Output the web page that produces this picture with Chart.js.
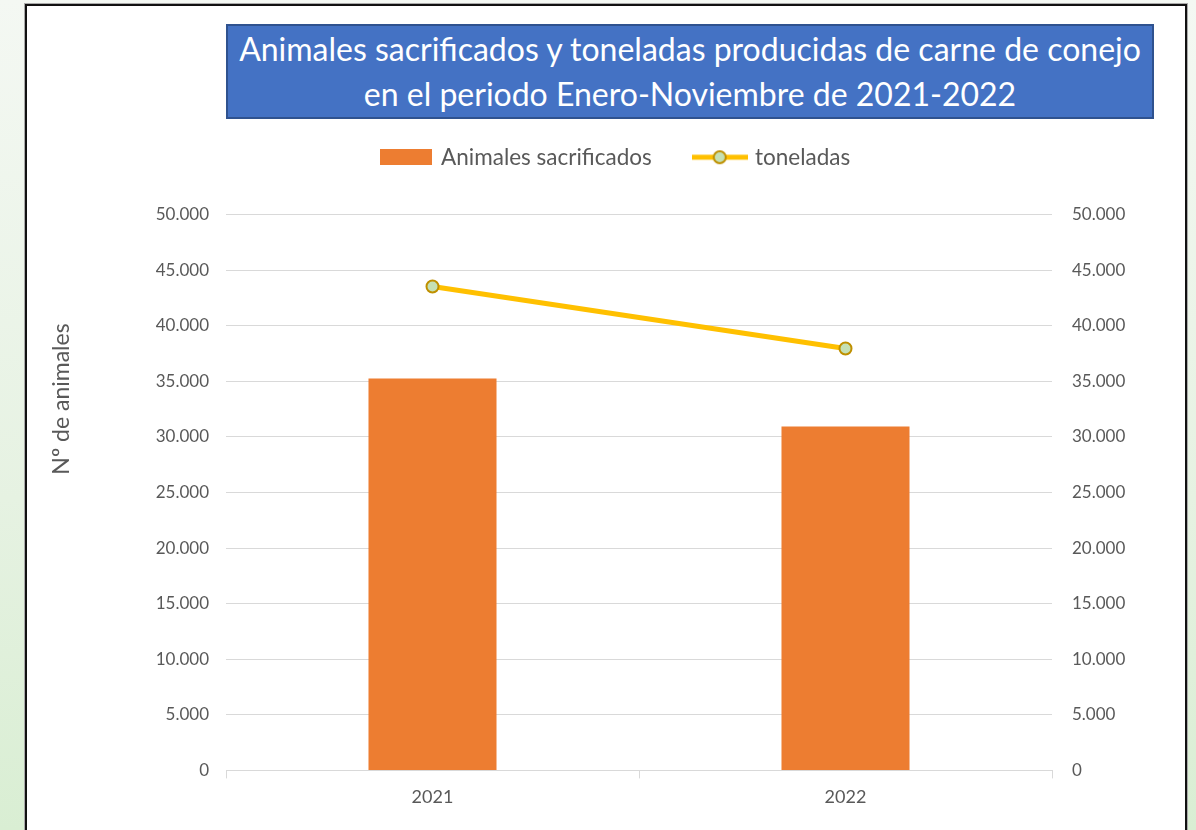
<!DOCTYPE html>
<html>
<head>
<meta charset="utf-8">
<script src="https://cdn.jsdelivr.net/npm/chart.js@4.4.0/dist/chart.umd.min.js"></script>
<style>
  html, body { margin: 0; padding: 0; }
  body {
    width: 1196px; height: 830px; overflow: hidden; position: relative;
    background: linear-gradient(to bottom, #f4f8f3 0%, #e6f2e2 60%, #d9eed3 100%);
    font-family: Lato, "Open Sans", sans-serif;
  }
  #frame {
    position: absolute; left: 25px; top: 4px; width: 1158px; height: 840px;
    background: #fff; border: 2px solid #111; box-shadow: 0 0 0 1px #aaa;
  }
  #titleBox {
    position: absolute; left: 226px; top: 24px; width: 924px; height: 91px;
    background: #4472C4; border: 2px solid #2F528F;
    color: #fff; font-size: 32px; line-height: 45px; text-align: center;
  }
  #chart { position: absolute; left: 0; top: 0; }
</style>
</head>
<body>
<div id="frame"></div>
<div id="titleBox">Animales sacrificados y toneladas producidas de carne de conejo<br>en el periodo Enero-Noviembre de 2021-2022</div>
<canvas id="chart" width="1196" height="830"></canvas>
<script>
"use strict";
var years = ['2021', '2022'];
var animales = [35250, 30940];
var toneladas = [43530, 37950];
var yTicks = [0, 5000, 10000, 15000, 20000, 25000, 30000, 35000, 40000, 45000, 50000];

var textColor = '#595959';
var gridColor = '#d9d9d9';
var fontFamily = 'Lato, "Open Sans", sans-serif';

function formatNum(v) {
    return String(v).replace(/\B(?=(\d{3})+(?!\d))/g, '.');
}

function makeBarIcon() {
    var c = document.createElement('canvas');
    c.width = 52; c.height = 16;
    var ctx = c.getContext('2d');
    ctx.fillStyle = '#ED7D31';
    ctx.fillRect(0, 0, 52, 16);
    return c;
}

function makeLineIcon() {
    var c = document.createElement('canvas');
    c.width = 56; c.height = 18;
    var ctx = c.getContext('2d');
    ctx.strokeStyle = '#FFC000';
    ctx.lineWidth = 5;
    ctx.beginPath();
    ctx.moveTo(0, 9); ctx.lineTo(56, 9);
    ctx.stroke();
    ctx.beginPath();
    ctx.arc(28, 9, 6, 0, Math.PI * 2);
    ctx.fillStyle = '#C5E0B4';
    ctx.fill();
    ctx.lineWidth = 2;
    ctx.strokeStyle = '#BF9000';
    ctx.stroke();
    return c;
}

var legendIcons = [makeBarIcon(), makeLineIcon()];

var legendMargin = {
    id: 'legendMargin',
    beforeInit: function (chart) {
        var fit = chart.legend.fit;
        chart.legend.fit = function () {
            fit.bind(chart.legend)();
            this.height += 36;
        };
    }
};

var yTitle = {
    id: 'yTitle',
    afterDraw: function (chart) {
        var ctx = chart.ctx;
        ctx.save();
        ctx.translate(62, 399);
        ctx.rotate(-Math.PI / 2);
        ctx.font = '23px ' + fontFamily;
        ctx.fillStyle = textColor;
        ctx.textAlign = 'center';
        ctx.textBaseline = 'middle';
        ctx.fillText('Nº de animales', 0, 0);
        ctx.restore();
    }
};

var context = document.getElementById('chart');
var myChart = new Chart(context, {
    type: 'bar',
    data: {
        labels: years,
        datasets: [{
            type: 'line',
            label: 'toneladas',
            data: toneladas,
            yAxisID: 'y1',
            borderColor: '#FFC000',
            borderWidth: 5,
            pointRadius: 6,
            pointBackgroundColor: '#C5E0B4',
            pointBorderColor: '#BF9000',
            pointBorderWidth: 2,
            order: 0
        }, {
            label: 'Animales sacrificados',
            data: animales,
            yAxisID: 'y',
            backgroundColor: '#ED7D31',
            barPercentage: 0.31,
            categoryPercentage: 1,
            order: 1
        }]
    },
    options: {
        responsive: false,
        animation: false,
        devicePixelRatio: 1,
        layout: { padding: { left: 36, right: 0, top: 102, bottom: 14 } },
        plugins: {
            tooltip: { enabled: false },
            legend: {
                position: 'top',
                labels: {
                    usePointStyle: true,
                    pointStyleWidth: 48,
                    padding: 44,
                    color: textColor,
                    font: { family: fontFamily, size: 22.5 },
                    generateLabels: function (chart) {
                        return [
                            { text: 'Animales sacrificados', pointStyle: legendIcons[0], datasetIndex: 1, fontColor: textColor, lineWidth: 0 },
                            { text: 'toneladas', pointStyle: legendIcons[1], datasetIndex: 0, fontColor: textColor, lineWidth: 0 }
                        ];
                    }
                }
            }
        },
        scales: {
            x: {
                grid: { display: true, drawOnChartArea: false, drawTicks: true, tickLength: 8, color: gridColor, offset: true },
                border: { display: true, color: gridColor, width: 1 },
                ticks: { color: textColor, font: { family: fontFamily, size: 18 }, padding: 8 }
            },
            y: {
                position: 'left',
                min: 0, max: 50000,
                afterBuildTicks: function (scale) { scale.ticks = yTicks.map(function (v) { return { value: v }; }); },
                afterFit: function (scale) { scale.width = 190; },
                grid: { color: gridColor, drawTicks: false },
                border: { display: false },
                ticks: { color: textColor, font: { family: fontFamily, size: 17 }, padding: 17, callback: function (v) { return formatNum(v); } }
            },
            y1: {
                position: 'right',
                min: 0, max: 50000,
                afterBuildTicks: function (scale) { scale.ticks = yTicks.map(function (v) { return { value: v }; }); },
                afterFit: function (scale) { scale.width = 144; },
                grid: { display: false, drawTicks: false },
                border: { display: false },
                ticks: { color: textColor, font: { family: fontFamily, size: 17 }, padding: 20, callback: function (v) { return formatNum(v); } }
            }
        }
    },
    plugins: [legendMargin, yTitle]
});
</script>
</body>
</html>
